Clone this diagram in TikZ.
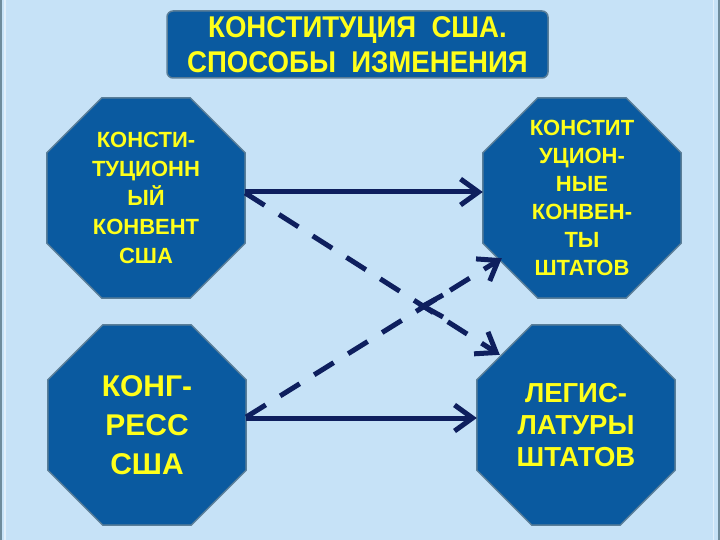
\documentclass[tikz,border=0pt]{standalone}
\usepackage{fontspec}
\setmainfont{Liberation Sans}
\newfontfamily\titlefont[FakeStretch=0.92]{Liberation Sans}
\usetikzlibrary{arrows.meta,backgrounds,calc}
\definecolor{bgblue}{HTML}{C6E2F7}
\definecolor{octblue}{HTML}{0A5AA0}
\definecolor{octedge}{HTML}{5A7E98}
\definecolor{txtyellow}{HTML}{FFFF1A}
\definecolor{navy}{HTML}{0E1F5E}
\definecolor{edgegray}{HTML}{6E8C9C}
\definecolor{edgelight}{HTML}{E2F0FB}
\newcommand\octagonfill[1]{%
  \filldraw[octshape] ([xshift=55pt]#1.north west) -- ([xshift=-55pt]#1.north east)
    -- ([yshift=-55pt]#1.north east) -- ([yshift=55pt]#1.south east)
    -- ([xshift=-55pt]#1.south east) -- ([xshift=55pt]#1.south west)
    -- ([yshift=55pt]#1.south west) -- ([yshift=-55pt]#1.north west) -- cycle;}
\begin{document}
\begin{tikzpicture}[x=1pt,y=-1pt,
  octnode/.style={rectangle,inner sep=0pt,minimum width=198pt,minimum height=200pt,
    align=center,text=txtyellow},
  octshape/.style={fill=octblue,draw=octedge,line width=1.5pt},
  titlebox/.style={rectangle,rounded corners=6pt,fill=octblue,draw=octedge,line width=1.5pt,
    minimum width=381pt,minimum height=67pt,inner sep=0pt,align=center,text=txtyellow,
    font={\titlefont\bfseries\fontsize{30}{35}\selectfont}},
  solidarrow/.style={draw=navy,line width=5pt,-{Straight Barb[length=18pt,width=26pt]}},
  dasharrow/.style={solidarrow,dash pattern=on 23pt off 17pt},
  chevron/.style={draw=navy,line width=5pt}]
\useasboundingbox (0,0) rectangle (720,540);

\node[titlebox] (title) at (357.5,44.5)
  {КОНСТИТУЦИЯ\ \ США.\\СПОСОБЫ\ \ ИЗМЕНЕНИЯ};

\node[octnode,font={\bfseries\fontsize{22}{29}\selectfont}] (o1) at (146,198)
  {КОНСТИ-\\ТУЦИОНН\\ЫЙ\\КОНВЕНТ\\США};
\node[octnode,font={\bfseries\fontsize{22}{28}\selectfont}] (o2) at (582,198)
  {КОНСТИТ\\УЦИОН-\\НЫЕ\\КОНВЕН-\\ТЫ\\ШТАТОВ};
\node[octnode,font={\bfseries\fontsize{30}{39}\selectfont}] (o3) at (147,425)
  {КОНГ-\\РЕСС\\США};
\node[octnode,font={\bfseries\fontsize{27.5}{32}\selectfont}] (o4) at (576,425)
  {ЛЕГИС-\\ЛАТУРЫ\\ШТАТОВ};

\begin{scope}[on background layer]
  \fill[bgblue] (0,0) rectangle (720,540);
  \fill[edgegray] (0,0) rectangle (2,540);
  \fill[edgelight] (4,0) rectangle (5.5,540);
  \fill[edgelight] (712.5,0) rectangle (714,540);
  \fill[edgegray] (718,0) rectangle (720,540);
  \octagonfill{o1}
  \octagonfill{o2}
  \octagonfill{o3}
  \octagonfill{o4}
\end{scope}

\draw[solidarrow] ([yshift=6pt]o1.east) -- ([yshift=6pt]o2.west);
\draw[solidarrow] ([yshift=7pt]o3.east) -- ([yshift=7pt]o4.west);
\draw[dasharrow] ([yshift=5pt]o1.east) -- ($(o4.north west)+(23,30)$);
\draw[dasharrow] ([yshift=8pt]o3.east) -- ($(o2.south west)+(19,-40)$);
\coordinate (mid) at (423,306);
\draw[chevron] ($(mid)+(20,-11)$) -- (mid) -- ($(mid)+(20,11)$);
\end{tikzpicture}
\end{document}
